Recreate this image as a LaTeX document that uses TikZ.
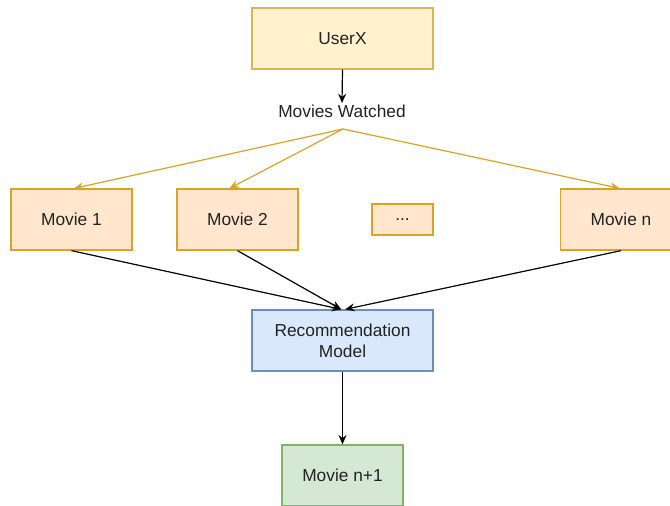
\documentclass[tikz,border=0pt]{standalone}
\usepackage{fontspec}
\setmainfont{Liberation Sans}
\usetikzlibrary{arrows.meta}
\definecolor{userfill}{HTML}{FFF2CC}
\definecolor{userdraw}{HTML}{D6B656}
\definecolor{moviefill}{HTML}{FFE6CC}
\definecolor{moviedraw}{HTML}{D9A328}
\definecolor{modelfill}{HTML}{DAE8FC}
\definecolor{modeldraw}{HTML}{6C8EBF}
\definecolor{outfill}{HTML}{D5E8D4}
\definecolor{outdraw}{HTML}{82B366}
\definecolor{txt}{HTML}{222222}
\tikzset{
  lbl/.style={font=\fontsize{13pt}{15.5pt}\selectfont, text=txt, align=center},
  box/.style={draw, line width=1pt, minimum width=90.75pt, minimum height=45.75pt,
    inner sep=0pt, lbl},
  wide/.style={minimum width=135.75pt},
  userbox/.style={box, wide, fill=userfill, draw=userdraw},
  moviebox/.style={box, fill=moviefill, draw=moviedraw},
  modelbox/.style={box, wide, fill=modelfill, draw=modeldraw},
  outbox/.style={box, fill=outfill, draw=outdraw},
  flow/.style={-{Stealth[length=7pt,width=6pt]}, line width=0.9pt, black},
  watch/.style={-{Stealth[length=7pt,width=6pt]}, line width=0.9pt, moviedraw},
}
\begin{document}
\begin{tikzpicture}[x=0.75pt,y=-0.75pt]
  \useasboundingbox (0,0) rectangle (670,506);
  \node[userbox] (user) at (342.5,38.5) {UserX};
  \node[lbl, inner sep=1pt] (watched) at (342,111) {Movies Watched};
  \coordinate (fan) at (343,129);
  \node[moviebox] (m1) at (71.5,219.5) {Movie 1};
  \node[moviebox] (m2) at (237.5,219.5) {Movie 2};
  \node[moviebox, minimum width=45.75pt, minimum height=23.25pt] (dots) at (402.5,219.5) {...};
  \node[moviebox] (mn) at (621,219.5) {Movie n};
  \node[modelbox] (model) at (342.5,340.5) {Recommendation\\Model};
  \node[outbox] (out) at (342.5,475.5) {Movie n+1};

  \draw[flow] (user.south) -- (watched.north);
  \draw[watch] (fan) -- ([xshift=2pt]m1.north);
  \draw[watch] (fan) -- ([xshift=-6pt]m2.north);
  \draw[watch] (fan) -- ([xshift=-1pt]mn.north);
  \draw[flow] (m1.south) -- ([xshift=-1pt]model.north);
  \draw[flow] (m2.south) -- ([xshift=-1pt]model.north);
  \draw[flow] (mn.south) -- ([xshift=2pt]model.north);
  \draw[flow] (model.south) -- (out.north);
\end{tikzpicture}
\end{document}
